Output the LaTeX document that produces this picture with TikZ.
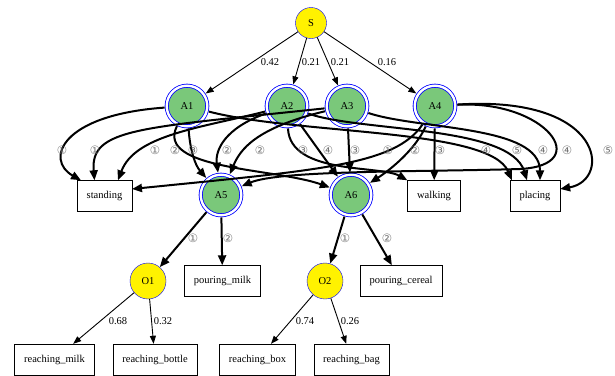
\documentclass[tikz,border=0pt]{standalone}
\usepackage{fontspec}
\setmainfont{Liberation Serif}
\newfontfamily\circfont{DejaVu Sans}
\usetikzlibrary{arrows.meta,calc}

\definecolor{actgreen}{RGB}{122,200,122}
\definecolor{ringblue}{RGB}{0,0,255}

\tikzset{
  startnode/.style={circle, draw=ringblue, fill=yellow, minimum size=31pt, inner sep=0pt},
  ornode/.style={circle, draw=ringblue, fill=yellow, minimum size=36pt, inner sep=0pt},
  andnode/.style={circle, draw=ringblue, line width=0.8pt, double=white, double distance=2.4pt,
    fill=actgreen, minimum size=40.6pt, inner sep=0pt, outer sep=2.2pt},
  leaf/.style={rectangle, draw, minimum height=31pt, inner xsep=9.5pt, inner ysep=0pt},
  probarr/.style={-{Triangle[length=8pt,width=6pt]}, line width=0.9pt},
  seqarr/.style={-{Triangle[length=10pt,width=8pt]}, line width=2pt},
  problab/.style={inner sep=1pt},
  seqlab/.style={font=\circfont\fontsize{11.5}{12}\selectfont, text=black!55, inner sep=0pt}
}

\begin{document}
\begin{tikzpicture}[x=1pt,y=-1pt,font=\fontsize{10.5}{12}\selectfont]
\useasboundingbox (0,0) rectangle (615,375);

% root and the four activities
\node[startnode] (S) at (311,23) {S};
\node[andnode] (A1) at (187,106) {A1};
\node[andnode] (A2) at (287,106) {A2};
\node[andnode] (A3) at (347,106) {A3};
\node[andnode] (A4) at (435,106) {A4};

% sub-activities and actions
\node[andnode] (A5) at (221,195) {A5};
\node[andnode] (A6) at (351,195) {A6};
\node[leaf] (standing) at (104.5,196) {standing};
\node[leaf] (walking) at (434,196) {walking};
\node[leaf] (placing) at (535,196) {placing};

% objects
\node[ornode] (O1) at (148,281) {O1};
\node[leaf] (pmilk) at (222.5,281) {pouring\_milk};
\node[ornode] (O2) at (325,281) {O2};
\node[leaf] (pcereal) at (401,281) {pouring\_cereal};
\node[leaf] (rmilk) at (54.5,359.5) {reaching\_milk};
\node[leaf] (rbottle) at (155,359.5) {reaching\_bottle};
\node[leaf] (rbox) at (257.5,359.5) {reaching\_box};
\node[leaf] (rbag) at (351.5,359.5) {reaching\_bag};

% S -> activities
\draw[probarr] (S) -- (A1);
\draw[probarr] (S) -- (A2);
\draw[probarr] (S) -- (A3);
\draw[probarr] (S) -- (A4);

% A1
\draw[seqarr] (A1) .. controls (60,115) and (45,160) .. ($(standing.north west)+(4,0)$);
\draw[seqarr] (A1) .. controls (155,170) and (275,168) .. (A6);
\draw[seqarr] (A1) .. controls (190,150) and (195,165) .. (A5);
\draw[seqarr] (A1) .. controls (300,135) and (490,128) .. ($(placing.north west)+(2,0)$);
% A2
\draw[seqarr] (A2) .. controls (200,128) and (135,135) .. ($(standing.north east)+(-14,0)$);
\draw[seqarr] (A2) .. controls (225,128) and (215,150) .. (A5);
\draw[seqarr] (A2) .. controls (290,175) and (380,165) .. (walking.north west);
\draw[seqarr] (A2) -- (A6);
\draw[seqarr] (A2) .. controls (360,132) and (510,125) .. ($(placing.north)+(-8,0)$);
% A3
\draw[seqarr] (A3) .. controls (140,128) and (90,128) .. ($(standing.north)+(-10,0)$);
\draw[seqarr] (A3) .. controls (255,128) and (240,150) .. (A5);
\draw[seqarr] (A3) -- (A6);
\draw[seqarr] (A3) .. controls (420,130) and (540,125) .. ($(placing.north)+(5,0)$);
% A4
\draw[seqarr] (A4) .. controls (395,165) and (320,170) .. ($(standing.east)+(0,-7)$);
\draw[seqarr] (A4) .. controls (415,150) and (390,170) .. (A6);
\draw[seqarr] (A4) -- (walking);
\draw[seqarr] (A4) .. controls (545,100) and (595,165) .. (520,169) .. controls (420,172) and (280,170) .. (A5);
\draw[seqarr] (A4) .. controls (605,95) and (612,180) .. ($(placing.east)+(0,-7)$);

% A5, A6
\draw[seqarr] (A5) -- (O1);
\draw[seqarr] (A5) -- (pmilk);
\draw[seqarr] (A6) -- (O2);
\draw[seqarr] (A6) -- (pcereal);

% objects -> actions
\draw[probarr] (O1) -- (rmilk);
\draw[probarr] (O1) -- (rbottle);
\draw[probarr] (O2) -- (rbox);
\draw[probarr] (O2) -- (rbag);

% Text Node
\node[problab] (p1) at (270,62) {0.42};
\node[problab] (p2) at (311,62) {0.21};
\node[problab] (p3) at (340,62) {0.21};
\node[problab] (p4) at (387,62) {0.16};
\node[problab] (p5) at (118,321) {0.68};
\node[problab] (p6) at (163,321) {0.32};
\node[problab] (p7) at (305,321) {0.74};
\node[problab] (p8) at (350,321) {0.26};

% Text Node
\node[seqlab] (s1) at (62,150) {①};
\node[seqlab] (s2) at (95,150) {①};
\node[seqlab] (s3) at (155,150) {①};
\node[seqlab] (s4) at (175,150) {②};
\node[seqlab] (s5) at (193,150) {③};
\node[seqlab] (s6) at (227,150) {②};
\node[seqlab] (s7) at (260,150) {②};
\node[seqlab] (s8) at (303,150) {③};
\node[seqlab] (s9) at (328,150) {④};
\node[seqlab] (s10) at (355,150) {③};
\node[seqlab] (s11) at (388,150) {①};
\node[seqlab] (s12) at (415,150) {②};
\node[seqlab] (s13) at (440,150) {③};
\node[seqlab] (s14) at (486,150) {④};
\node[seqlab] (s15) at (517,150) {⑤};
\node[seqlab] (s16) at (543,150) {④};
\node[seqlab] (s17) at (567,150) {④};
\node[seqlab] (s18) at (608,150) {⑤};
\node[seqlab] (s19) at (193,238) {①};
\node[seqlab] (s20) at (228,238) {②};
\node[seqlab] (s21) at (345,238) {①};
\node[seqlab] (s22) at (387,238) {②};

\end{tikzpicture}
\end{document}
